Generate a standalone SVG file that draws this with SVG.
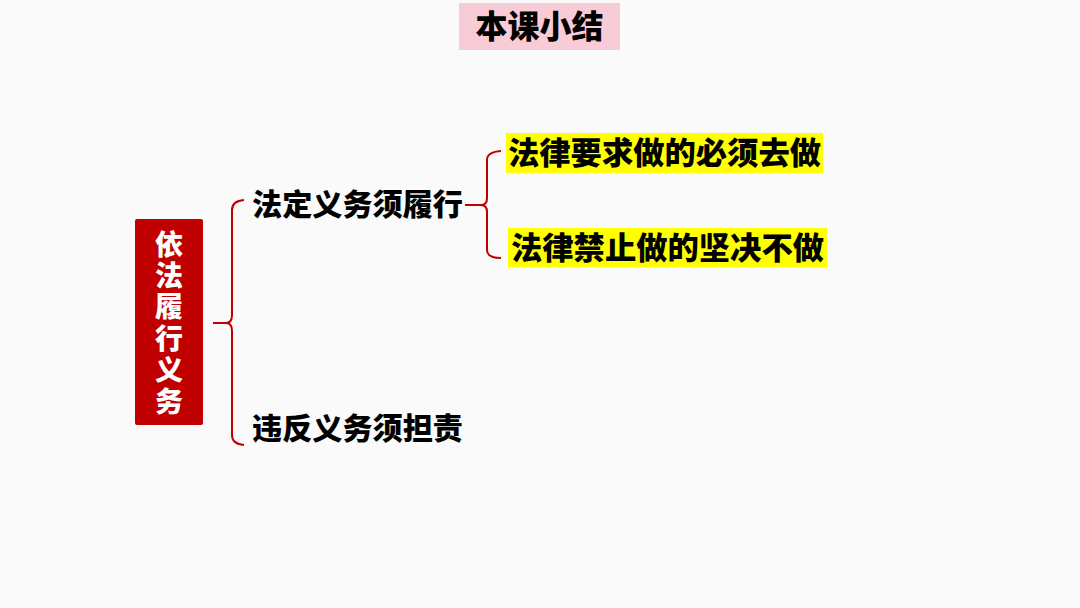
<svg xmlns="http://www.w3.org/2000/svg" width="1080" height="608" viewBox="0 0 1080 608">
<style>
.t{font-family:"Noto Sans CJK SC","Noto Sans",sans-serif;font-weight:900;fill:#000}
.w{fill:#fff}
.br{fill:none;stroke:#c00000;stroke-width:2}
</style>
<rect width="1080" height="608" fill="#fafafa"/>
<g id="title">
<rect x="459" y="3" width="161" height="47" fill="#f8ccd6"/>
<text class="t" x="539.5" y="38" font-size="32" text-anchor="middle">本课小结</text>
</g>
<g id="root">
<rect x="135" y="219" width="68" height="206" rx="2" fill="#c00000"/>
<text class="t w" x="169" y="230" font-size="28" writing-mode="vertical-rl" letter-spacing="3.4">依法履行义务</text>
</g>
<g id="connectors">
<path class="br" d="M213,323 H226 Q232,323 232,315 V210 Q232,201 244,200"/>
<path class="br" d="M226,323 Q232,323 232,331 V435 Q232,444 244,445"/>
<path class="br" d="M465,205 H481 Q487,205 487,198 V160 Q487,152 501,151"/>
<path class="br" d="M481,205 Q487,205 487,212 V250 Q487,258 501,258"/>
</g>
<g id="n1">
<text class="t" x="252" y="215" font-size="30" textLength="211" lengthAdjust="spacingAndGlyphs">法定义务须履行</text>
</g>
<g id="n2">
<text class="t" x="252" y="439" font-size="30" textLength="211" lengthAdjust="spacingAndGlyphs">违反义务须担责</text>
</g>
<g id="n3">
<rect x="506" y="133" width="317" height="40" fill="#ffff00"/>
<text class="t" x="508" y="164" font-size="31" textLength="313" lengthAdjust="spacingAndGlyphs">法律要求做的必须去做</text>
</g>
<g id="n4">
<rect x="508" y="228" width="319" height="39" fill="#ffff00"/>
<text class="t" x="511" y="259" font-size="31" textLength="313" lengthAdjust="spacingAndGlyphs">法律禁止做的坚决不做</text>
</g>
</svg>
